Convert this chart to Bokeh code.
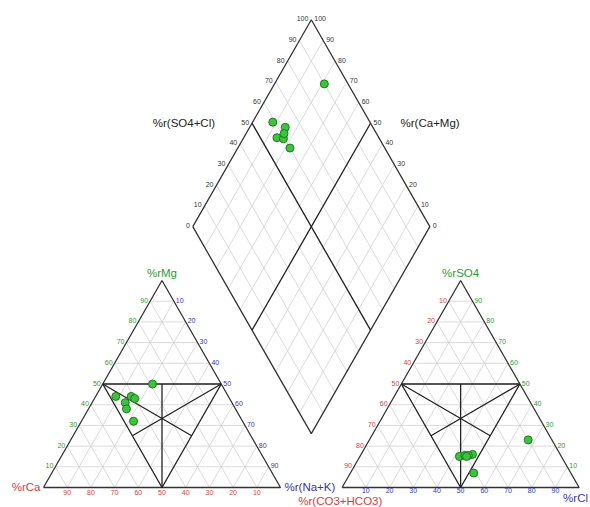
import math
from bokeh.plotting import figure
from bokeh.models import ColumnDataSource, Range1d
from bokeh.core.properties import value
from bokeh.embed import file_html
from bokeh.resources import INLINE

# ---- sample data (% of meq) ----
Mg = [50, 44, 41, 44, 43, 38, 32]
NaK = [21, 8.5, 14, 15, 17, 16, 22]
SO4 = [23, 7, 15, 16, 15.5, 15.5, 15]
Cl = [67, 52, 42, 47, 44, 45.5, 45]
Ca = [100 - m - n for m, n in zip(Mg, NaK)]
HCO3 = [100 - s - c for s, c in zip(SO4, Cl)]

tri_ticks = [10, 20, 30, 40, 50, 60, 70, 80, 90]
dia_ticks = [0, 10, 20, 30, 40, 50, 60, 70, 80, 90, 100]

GREEN = "#2f9a2f"
RED = "#d6403a"
BLUE = "#3434b8"
FONT = "Liberation Sans"

G = 26.0
H = math.sqrt(3) / 2
OX = 100 + G


def cat(m, n):
    return (n + m / 2, H * m)


def an(s, c):
    return (OX + c + s / 2, H * s)


def dia(n, a):
    return ((100 + G + a + n) / 2, H * (100 + G + a - n))


p = figure(width=590, height=507, x_range=Range1d(-18.14, 230.8), y_range=Range1d(-8.37, 203.76),
           output_backend="svg", toolbar_location=None, min_border=0,
           x_axis_location=None, y_axis_location=None)
p.grid.visible = False
p.outline_line_color = None
p.background_fill_color = "white"

# ---- grid lines ----
gx, gy = [], []
for k in tri_ticks:
    for ox in (0, OX):
        gx.append([ox + k / 2, ox + 100 - k / 2]); gy.append([H * k, H * k])
        gx.append([ox + k, ox + k + (100 - k) / 2]); gy.append([0, H * (100 - k)])
        gx.append([ox + k, ox + k / 2]); gy.append([0, H * k])
    a0, a1 = dia(k, 0), dia(k, 100)
    gx.append([a0[0], a1[0]]); gy.append([a0[1], a1[1]])
    b0, b1 = dia(0, k), dia(100, k)
    gx.append([b0[0], b1[0]]); gy.append([b0[1], b1[1]])
p.multi_line(gx, gy, line_color="#cccccc", line_width=0.7)

# ---- outlines ----
ox_, oy_ = [], []
for ox in (0, OX):
    ox_.append([ox, ox + 100, ox + 50, ox]); oy_.append([0, 0, H * 100, 0])
L, T, R, B = dia(0, 0), dia(0, 100), dia(100, 100), dia(100, 0)
ox_.append([L[0], T[0], R[0], B[0], L[0]]); oy_.append([L[1], T[1], R[1], B[1], L[1]])
p.multi_line(ox_, oy_, line_color="#333333", line_width=1.3)

# ---- classification lines ----
segs = [((25, 50 * H), (75, 50 * H)), ((25, 50 * H), (50, 0)), ((75, 50 * H), (50, 0)),
        ((50, 50 * H), (50, 0)), ((25, 50 * H), (62.5, 25 * H)), ((75, 50 * H), (37.5, 25 * H))]
cx, cy = [], []
for ox in (0, OX):
    for (x0, y0), (x1, y1) in segs:
        cx.append([ox + x0, ox + x1]); cy.append([y0, y1])
for a0, a1 in ((dia(50, 0), dia(50, 100)), (dia(0, 50), dia(100, 50))):
    cx.append([a0[0], a1[0]]); cy.append([a0[1], a1[1]])
p.multi_line(cx, cy, line_color="#222222", line_width=1.3)


# ---- tick labels ----
def labels(pts, texts, color, align, baseline, xo=0, yo=0, size="7px"):
    src = ColumnDataSource(dict(x=[q[0] for q in pts], y=[q[1] for q in pts], t=texts))
    p.text(x="x", y="y", text="t", source=src, text_color=color, text_align=align,
           text_baseline=baseline, x_offset=xo, y_offset=yo, text_font_size=size,
           text_font=value(FONT))


lab = [str(k) for k in tri_ticks]
labels([cat(k, 0) for k in tri_ticks], lab, GREEN, "right", "middle", -2, -1)
labels([cat(100 - k, k) for k in tri_ticks], lab, BLUE, "left", "middle", 2, -1)
labels([cat(0, 100 - k) for k in tri_ticks], lab, RED, "center", "top", 0, 3)
labels([an(100 - k, 0) for k in tri_ticks], lab, RED, "right", "middle", -2, -1)
labels([an(k, 100 - k) for k in tri_ticks], lab, GREEN, "left", "middle", 2, -1)
labels([an(0, k) for k in tri_ticks], lab, BLUE, "center", "top", 0, 1)
dlab = [str(k) for k in dia_ticks]
labels([dia(0, k) for k in dia_ticks], dlab, "#333333", "right", "middle", -3, -1)
labels([dia(100 - k, 100) for k in dia_ticks], dlab, "#333333", "left", "middle", 3, -1)

# ---- axis titles ----
TS = "11.5px"
labels([(50, 100 * H)], ["%rMg"], GREEN, "center", "bottom", 0, -2, TS)
labels([(0, 0)], ["%rCa"], RED, "right", "middle", -3, 0, TS)
labels([(100, 0)], ["%r(Na+K)"], BLUE, "left", "middle", 4, 0, TS)
labels([(OX + 50, 100 * H)], ["%rSO4"], GREEN, "center", "bottom", 0, -2, TS)
labels([(OX - 18.5, 0)], ["%r(CO3+HCO3)"], RED, "left", "top", 0, 8, TS)
labels([(OX + 100, 0)], ["%rCl"], BLUE, "left", "top", -16, 5, TS)
labels([dia(0, 50)], ["%r(SO4+Cl)"], "#222222", "right", "middle", -37, 0, TS)
labels([dia(50, 100)], ["%r(Ca+Mg)"], "#222222", "left", "middle", 30, 0, TS)

# ---- samples ----
cxs = [n + m / 2 for m, n in zip(Mg, NaK)]
cys = [H * m for m in Mg]
axs = [OX + c + s / 2 for s, c in zip(SO4, Cl)]
ays = [H * s for s in SO4]
dxs = [(100 + G + (s + c) + n) / 2 for s, c, n in zip(SO4, Cl, NaK)]
dys = [H * (100 + G + (s + c) - n) for s, c, n in zip(SO4, Cl, NaK)]
src = ColumnDataSource(dict(x=cxs + axs + dxs, y=cys + ays + dys))
p.scatter(x="x", y="y", source=src, marker="circle", size=8,
          fill_color="#3cc43c", line_color="#1c7a1c", line_width=1)

open("out.html", "w").write(file_html(p, INLINE))
